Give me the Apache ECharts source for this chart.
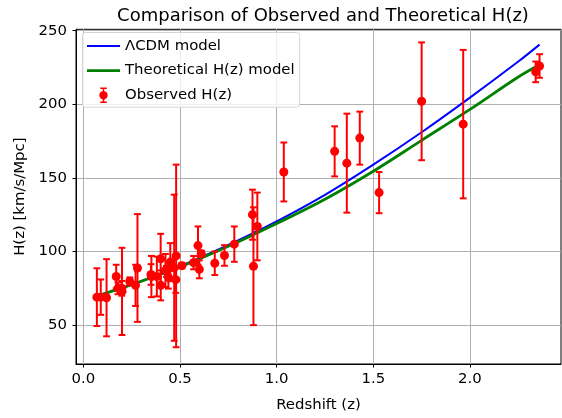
<!DOCTYPE html>
<html>
<head>
<meta charset="utf-8">
<script src="https://cdn.jsdelivr.net/npm/echarts@6/dist/echarts.min.js"></script>
<style>
  html, body { margin: 0; padding: 0; background: #fff; }
  #chart { width: 562px; height: 418px; }
</style>
</head>
<body>
<div id="chart"></div>
<script>
// Observed H(z) data: redshift, value, 1-sigma error
const obsZ     = [0.07, 0.09, 0.12, 0.17, 0.179, 0.199, 0.2, 0.24, 0.27, 0.28, 0.35, 0.352, 0.3802, 0.4, 0.4004, 0.4247, 0.43, 0.44, 0.4497, 0.47, 0.4783, 0.48, 0.51, 0.57, 0.593, 0.6, 0.61, 0.68, 0.73, 0.781, 0.875, 0.88, 0.9, 1.037, 1.3, 1.363, 1.43, 1.53, 1.75, 1.965, 2.34, 2.36];
const obsH     = [69, 69, 68.6, 83, 75, 75, 72.9, 79.7, 77, 88.8, 84.4, 83, 83, 95, 77, 87.1, 86.5, 82.6, 92.8, 89, 80.9, 97, 90.4, 92.4, 104, 87.9, 98.5, 92, 97.3, 105, 125, 90, 117, 154, 168, 160, 177, 140, 202, 186.5, 222, 226];
const obsSigma = [19.6, 12, 26.2, 8, 4, 5, 29.6, 2.7, 14, 36.6, 7, 14, 13.5, 17, 10.2, 11.2, 3.7, 7.8, 12.9, 49.6, 9, 62, 1.9, 4.5, 13, 6.1, 2.1, 8, 7, 12, 17, 40, 23, 20, 17, 33.6, 18, 14, 40, 50.4, 7, 8];

// Model curves
const modelZ   = [0.07, 0.25, 0.5, 0.75, 1.0, 1.25, 1.5, 1.75, 2.0, 2.25, 2.36];
const lcdmH    = [69.8, 77.5, 90, 104.5, 120.5, 138.5, 159, 181, 204.5, 229, 240.5];
const theoH    = [69.8, 77.5, 89.5, 103.5, 119, 135.5, 154.5, 175.5, 196.5, 218.5, 226.8];

// Tick labels
const xTicks = [0, 0.5, 1.0, 1.5, 2.0];
const yTicks = [50, 100, 150, 200, 250];

const FONT = 'DejaVu Sans';

const lcdmData = modelZ.map((z, i) => [z, lcdmH[i]]);
const theoData = modelZ.map((z, i) => [z, theoH[i]]);
const barData  = obsZ.map((z, i) => [z, obsH[i] - obsSigma[i], obsH[i] + obsSigma[i]]);
const ptData   = obsZ.map((z, i) => [z, obsH[i]]);

const RED = '#ff0000';
const CAP = 3.4;

const obsIcon = 'path://M15.75,1 L17.25,1 L17.25,15 L15.75,15 Z M13.2,0.3 L19.8,0.3 L19.8,1.7 L13.2,1.7 Z M13.2,14.3 L19.8,14.3 L19.8,15.7 L13.2,15.7 Z M12.3,8 A4.2,4.2 0 1,1 20.7,8 A4.2,4.2 0 1,1 12.3,8 Z M0,8 L0.01,8 L0.01,8.01 Z M33,8 L32.99,8 L32.99,8.01 Z M16,0 L16.01,0 L16.01,0.01 Z M16,16 L16.01,16 L16.01,15.99 Z';
const lineIconBlue = 'path://M0,7 L33,7 L33,9 L0,9 Z M0,0 L0.01,0 L0.01,0.01 Z M0,16 L0.01,16 L0.01,15.99 Z';
const lineIconGreen = 'path://M0,6.7 L33,6.7 L33,9.3 L0,9.3 Z M0,0 L0.01,0 L0.01,0.01 Z M0,16 L0.01,16 L0.01,15.99 Z';

const chart = echarts.init(document.getElementById('chart'), null, { renderer: 'canvas' });

chart.setOption({
  animation: false,
  backgroundColor: '#ffffff',
  title: {
    text: 'Comparison of Observed and Theoretical H(z)',
    left: 318,
    textAlign: 'center',
    top: 2.5,
    textStyle: { fontFamily: FONT, fontSize: 18, fontWeight: 'normal', color: '#000' }
  },
  legend: {
    orient: 'vertical',
    left: 82.5,
    top: 32.5,
    itemWidth: 33,
    itemHeight: 16,
    itemGap: 8.6,
    itemTextGap: 14,
    padding: [5.5, 5, 4, 4.5],
    backgroundColor: 'rgba(255,255,255,0.8)',
    borderColor: '#d4d4d4',
    borderWidth: 1,
    borderRadius: 3,
    textStyle: { fontFamily: FONT, fontSize: 14.9, color: '#000' },
    data: [
      { name: 'ΛCDM model', icon: lineIconBlue, itemStyle: { color: '#0000ff' } },
      { name: 'Theoretical H(z) model', icon: lineIconGreen, itemStyle: { color: '#008000' } },
      { name: 'Observed H(z)', icon: obsIcon, itemStyle: { color: RED } }
    ]
  },
  grid: {
    left: 76, right: 1, top: 29.3, bottom: 47.3,
    show: true, borderColor: '#000', borderWidth: 1, backgroundColor: 'transparent'
  },
  xAxis: {
    type: 'value',
    min: -0.038,
    max: 2.471,
    splitNumber: 5,
    name: 'Redshift (z)',
    nameLocation: 'middle',
    nameGap: 34,
    nameTextStyle: { fontFamily: FONT, fontSize: 14.9, color: '#000' },
    axisLine: { show: true, onZero: false, lineStyle: { color: '#000', width: 1 } },
    axisTick: { show: true, length: 3.5, lineStyle: { color: '#000', width: 1 }, customValues: xTicks },
    axisLabel: {
      margin: 8, fontFamily: FONT, fontSize: 14.9, color: '#000',
      customValues: xTicks,
      formatter: v => v.toFixed(1)
    },
    splitLine: { show: true, lineStyle: { color: '#b0b0b0', width: 1 } }
  },
  yAxis: {
    type: 'value',
    min: 23.6,
    max: 250.9,
    splitNumber: 5,
    name: 'H(z) [km/s/Mpc]',
    nameLocation: 'middle',
    nameGap: 42,
    nameTextStyle: { fontFamily: FONT, fontSize: 14.9, color: '#000' },
    axisLine: { show: true, onZero: false, lineStyle: { color: '#000', width: 1 } },
    axisTick: { show: true, length: 3.5, lineStyle: { color: '#000', width: 1 }, customValues: yTicks },
    axisLabel: {
      margin: 9, fontFamily: FONT, fontSize: 14.9, color: '#000',
      customValues: yTicks
    },
    splitLine: { show: true, lineStyle: { color: '#b0b0b0', width: 1 } }
  },
  series: [
    {
      name: 'ΛCDM model',
      type: 'line',
      data: lcdmData,
      smooth: 0.35,
      showSymbol: false,
      symbol: 'none',
      lineStyle: { color: '#0000ff', width: 2 },
      itemStyle: { color: '#0000ff' },
      z: 2
    },
    {
      name: 'Theoretical H(z) model',
      type: 'line',
      data: theoData,
      smooth: 0.35,
      showSymbol: false,
      symbol: 'none',
      lineStyle: { color: '#008000', width: 2.8 },
      itemStyle: { color: '#008000' },
      z: 3
    },
    {
      name: 'Observed H(z)',
      type: 'custom',
      data: barData,
      encode: { x: 0, y: [1, 2] },
      itemStyle: { color: RED },
      z: 4,
      renderItem: function (params, api) {
        const z = api.value(0);
        const lo = api.coord([z, api.value(1)]);
        const hi = api.coord([z, api.value(2)]);
        const st = { stroke: RED, lineWidth: 2 };
        return {
          type: 'group',
          children: [
            { type: 'line', shape: { x1: lo[0], y1: lo[1], x2: hi[0], y2: hi[1] }, style: st },
            { type: 'line', shape: { x1: lo[0] - CAP, y1: lo[1], x2: lo[0] + CAP, y2: lo[1] }, style: st },
            { type: 'line', shape: { x1: hi[0] - CAP, y1: hi[1], x2: hi[0] + CAP, y2: hi[1] }, style: st }
          ]
        };
      }
    },
    {
      name: 'Observed H(z)',
      type: 'scatter',
      data: ptData,
      symbol: 'circle',
      symbolSize: 9,
      itemStyle: { color: RED, opacity: 1 },
      z: 5
    }
  ]
});
</script>
</body>
</html>
